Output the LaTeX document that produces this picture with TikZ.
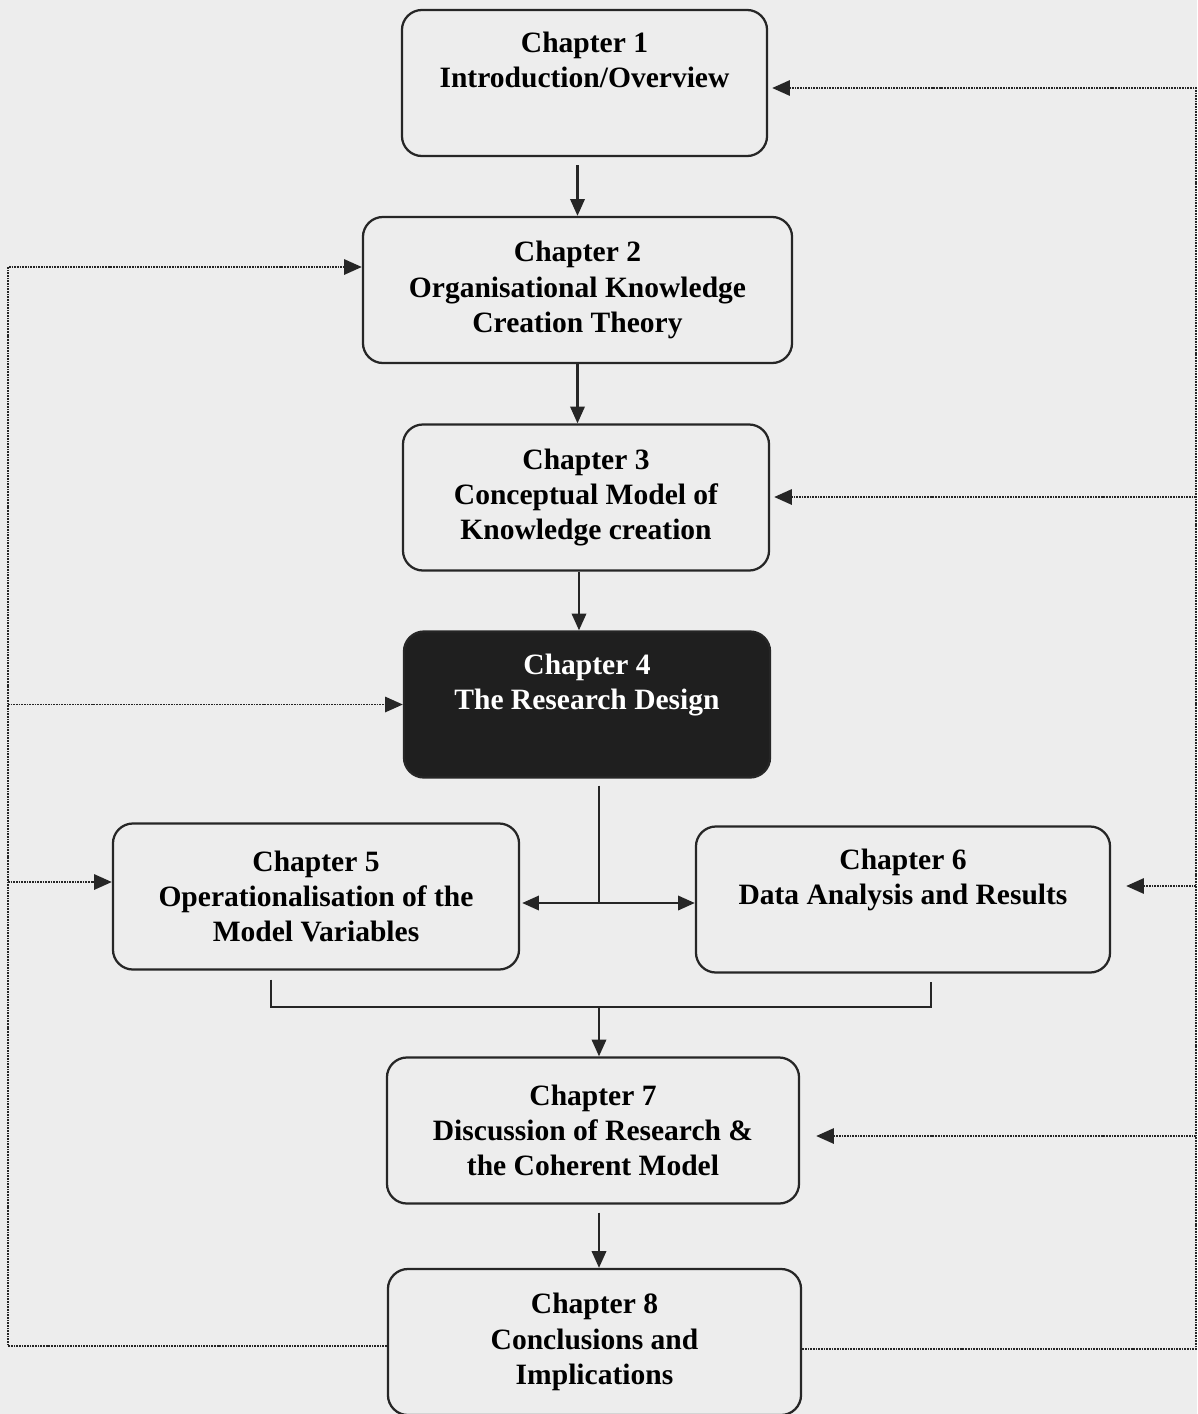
\documentclass[tikz,border=0pt]{standalone}
\usepackage{fontspec}
\setmainfont{Liberation Serif}
\usetikzlibrary{arrows.meta}

\begin{document}
\begin{tikzpicture}[x=0.025cm,y=-0.025cm,
        chap/.style={draw=black!85, line width=1.6pt, rounded corners=5mm, align=center,
            minimum height=3.65cm, inner sep=0pt, font=\fontsize{21}{25}\selectfont\bfseries},
        flow/.style={black!85, line width=1.6pt, -{Triangle[length=4.2mm,width=3.6mm]}},
        back/.style={black!85, line width=1.4pt, dash pattern=on 1.2pt off 0.7pt,
            -{Triangle[length=4.4mm,width=3.8mm]}}]
        \fill [black!7] (0,0) rectangle (1197,1414);
        \clip (0,0) rectangle (1197,1414);

        \node [chap, minimum width=9.125cm] (ch1) at (584.5,83) {Chapter 1\\Introduction/Overview\\\strut};
        \node [chap, minimum width=10.725cm] (ch2) at (577.5,290) {Chapter 2\\Organisational Knowledge\\Creation Theory};
        \node [chap, minimum width=9.15cm] (ch3) at (586,497.5) {Chapter 3\\Conceptual Model of\\Knowledge creation};
        \node [chap, minimum width=9.15cm, fill=black!88, text=white] (ch4) at (587,704.5) {Chapter 4\\The Research Design\\\strut};
        \node [chap, minimum width=10.15cm] (ch5) at (316,896.5) {Chapter 5\\Operationalisation of the\\Model Variables};
        \node [chap, minimum width=10.35cm] (ch6) at (903,899.5) {Chapter 6\\Data Analysis and Results\\\strut};
        \node [chap, minimum width=10.3cm] (ch7) at (593,1130.5) {Chapter 7\\Discussion of Research \&\\the Coherent Model};
        \node [chap, minimum width=10.325cm] (ch8) at (594.5,1342) {Chapter 8\\Conclusions and\\Implications};

        \coordinate (fork) at (599,903);
        \coordinate (join) at (599,1007);
        \coordinate (j5) at (271,1007);
        \coordinate (j6) at (931,1007);
        \coordinate (lb) at (8,1346);
        \coordinate (lt) at (8,267);
        \coordinate (rb) at (1196,1349);
        \coordinate (rt) at (1196,88);

        % main flow
        \draw [flow, shorten <=2mm] (ch1.south -| ch2.north) -- (ch2.north);
        \draw [flow] (ch2.south) -- (ch3.north -| ch2.south);
        \draw [flow] (ch3.south -| 579,0) -- (ch4.north -| 579,0);
        \draw [flow, -] (ch4.south -| fork) ++(0,7) -- (fork);
        \draw [flow, shorten >=0.5mm] (fork) -- (ch5.east |- fork);
        \draw [flow] (fork) -- (ch6.west |- fork);
        \draw [flow, -] (ch5.south -| j5) ++(0,9) -- (j5) -- (j6) -- ([yshift=-2mm]ch6.south -| j6);
        \draw [flow] (join) -- (ch7.north -| join);
        \draw [flow, shorten <=2mm] (ch7.south -| join) -- (ch8.north -| join);

        % feedback
        \draw [back] (ch8.west |- lb) -- (lb) -- (lt) -- (ch2.west |- lt);
        \draw [back] (lb |- ch4.west) -- (ch4.west);
        \draw [back] (8,882) -- (ch5.west |- 0,882);
        \draw [back, shorten >=1mm] (ch8.east |- rb) -- (rb) -- (rt) -- (ch1.east |- rt);
        \draw [back, shorten >=1mm] (1196,497) -- (ch3.east |- 0,497);
        \draw [back, shorten >=3.75mm] (1196,886) -- (ch6.east |- 0,886);
        \draw [back, shorten >=4mm] (1196,1136) -- (ch7.east |- 0,1136);
\end{tikzpicture}
\end{document}
